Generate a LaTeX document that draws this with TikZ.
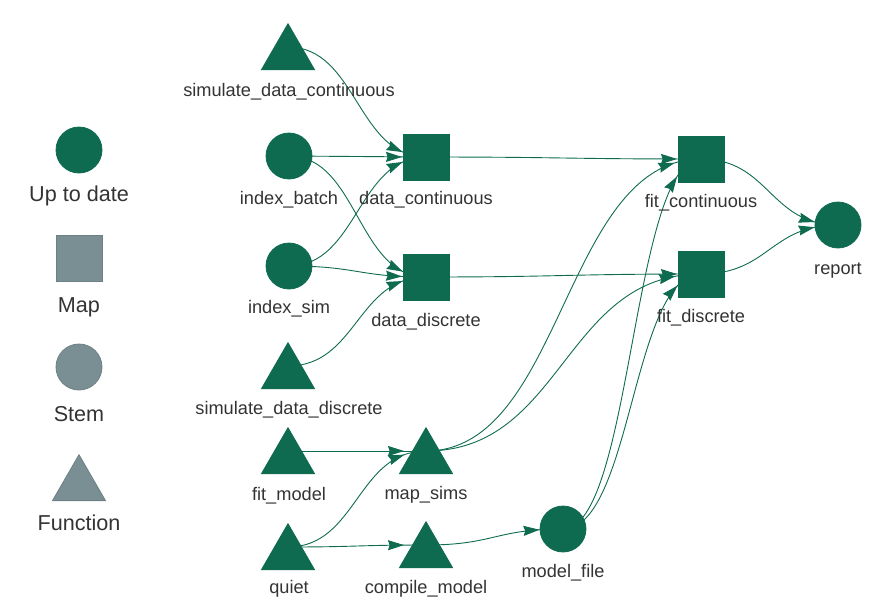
\documentclass[tikz,border=0pt]{standalone}
\usepackage{fontspec}
\setmainfont{Liberation Sans}
\usetikzlibrary{arrows.meta,shapes.geometric,decorations.markings,calc,backgrounds}
\definecolor{tgreen}{HTML}{0F6B50}
\definecolor{tgrey}{HTML}{7A8F94}
\definecolor{tgreyline}{HTML}{6C8085}
\definecolor{txt}{HTML}{333333}
\begin{document}
\begin{tikzpicture}[x=1pt,y=-1pt,
  circ/.style={circle,minimum size=46pt,inner sep=0pt,outer sep=0pt,fill=tgreen,draw=tgreen,line width=0.8pt},
  sq/.style={rectangle,minimum size=46pt,inner sep=0pt,outer sep=0pt,fill=tgreen,draw=tgreen,line width=0.8pt},
  tri/.style={regular polygon,regular polygon sides=3,minimum size=61.2pt,inner sep=0pt,outer sep=0pt,fill=tgreen,draw=tgreen,line width=0.8pt},
  greyed/.style={fill=tgrey,draw=tgreyline},
  lab/.style={anchor=base,text=txt,font=\fontsize{18.2}{20}\selectfont,inner sep=0pt},
  leglab/.style={anchor=base,text=txt,font=\fontsize{21.6}{24}\selectfont,inner sep=0pt},
  hcurve/.style={to path={let \p1=(\tikztostart),\p2=(\tikztotarget) in .. controls ({0.5*\x1+0.5*\x2},\y1) and ({0.5*\x1+0.5*\x2},\y2) .. (\tikztotarget)}},
  conn/.style={draw=tgreen,line width=0.9pt,hcurve,postaction={decorate},
    decoration={markings,mark=at position -#1 with {\arrow{Stealth[length=16pt,width=10pt,inset=1.6pt]}}}},
  conn/.default=24pt
]
\useasboundingbox (0,0) rectangle (882,606);
% legend
\node[circ] (lgutd) at (79,150) {};
\node[leglab] (lgutdl) at (79,201) {Up to date};
\node[sq,greyed] (lgmap) at (79,258) {};
\node[leglab] (lgmapl) at (79,312) {Map};
\node[circ,greyed] (lgstem) at (79,367) {};
\node[leglab] (lgsteml) at (79,421) {Stem};
\node[tri,greyed] (lgfun) at (79,485.3) {};
\node[leglab] (lgfunl) at (79,530) {Function};
% nodes
\node[tri] (sdc) at (288,54.3) {};
\node[lab] (sdcl) at (289,96) {simulate\_data\_continuous};
\node[circ] (ib) at (289,156) {};
\node[lab] (ibl) at (289,204) {index\_batch};
\node[circ] (is) at (289,266) {};
\node[lab] (isl) at (289,313) {index\_sim};
\node[tri] (sdd) at (288,373.3) {};
\node[lab] (sddl) at (289,414) {simulate\_data\_discrete};
\node[tri] (fm) at (288,458.3) {};
\node[lab] (fml) at (289,500) {fit\_model};
\node[tri] (qu) at (288,554.3) {};
\node[lab] (qul) at (289,593) {quiet};
\node[sq] (dc) at (426,157) {};
\node[lab] (dcl) at (426,204) {data\_continuous};
\node[sq] (dd) at (426,277) {};
\node[lab] (ddl) at (426,326) {data\_discrete};
\node[tri] (ms) at (426,458.3) {};
\node[lab] (msl) at (426,499) {map\_sims};
\node[tri] (cm) at (426,552.3) {};
\node[lab] (cml) at (426,593) {compile\_model};
\node[circ] (mf) at (563,529) {};
\node[lab] (mfl) at (563,577) {model\_file};
\node[sq] (fc) at (701,159) {};
\node[lab] (fcl) at (701,207) {fit\_continuous};
\node[sq] (fd) at (701,274) {};
\node[lab] (fdl) at (701,322) {fit\_discrete};
\node[circ] (rp) at (838,225) {};
\node[lab] (rpl) at (838,274) {report};
% edges
\begin{pgfonlayer}{background}
\draw[conn] ([yshift=7.3pt]sdc.center) to (dc.center);
\draw[conn] (ib.center) to (dc.center);
\draw[conn] (ib.center) to (dd.center);
\draw[conn] (is.center) to (dc.center);
\draw[conn] (is.center) to (dd.center);
\draw[conn] ([yshift=7.3pt]sdd.center) to (dd.center);
\draw[conn] (dc.center) to (fc.center);
\draw[conn] (dd.center) to (fd.center);
\draw[conn=27pt] ([yshift=7.3pt]ms.center) to (fc.center);
\draw[conn=26pt] ([yshift=7.3pt]ms.center) to (fd.center);
\draw[conn=31pt] (mf.center) to (fc.center);
\draw[conn=27pt] (mf.center) to (fd.center);
\draw[conn=23.5pt] (fc.center) to (rp.center);
\draw[conn=23.5pt] (fd.center) to (rp.center);
\draw[conn=22pt] ([yshift=7.3pt]fm.center) to ([yshift=7.3pt]ms.center);
\draw[conn=22pt] ([yshift=7.3pt]qu.center) to ([yshift=7.3pt]ms.center);
\draw[conn=22pt] ([yshift=7.3pt]qu.center) to ([yshift=7.3pt]cm.center);
\draw[conn=23.5pt] ([yshift=7.3pt]cm.center) to (mf.center);
\end{pgfonlayer}
\end{tikzpicture}
\end{document}
